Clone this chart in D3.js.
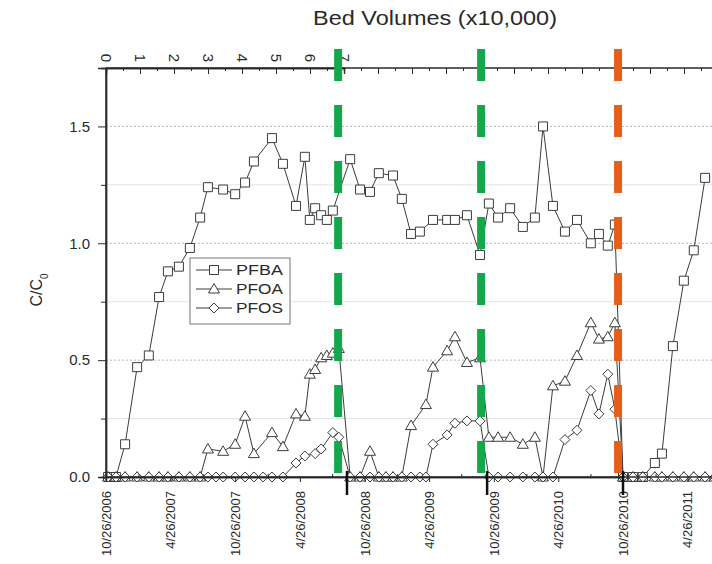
<!DOCTYPE html>
<html><head><meta charset="utf-8">
<script src="https://cdn.jsdelivr.net/npm/d3@7"></script>
<style>
body{margin:0;background:#fff}
svg{display:block}
text{font-family:"Liberation Sans",Arial,sans-serif;fill:#2a2a2a}
</style>
</head><body><svg id="c" width="712" height="564"></svg>
<script>
// ---------------- data ----------------
const sampleDates = [
 "2006-11-01","2006-11-23","2006-12-19","2007-01-22","2007-02-24","2007-03-25","2007-04-19","2007-05-20",
 "2007-06-20","2007-07-19","2007-08-10","2007-09-02","2007-09-22","2007-10-26","2007-11-23","2007-12-18",
 "2008-01-13","2008-02-07","2008-03-09","2008-04-15","2008-05-10","2008-05-24","2008-06-08","2008-06-25",
 "2008-07-11","2008-07-28","2008-08-14","2008-09-15","2008-10-13","2008-11-10","2008-12-05","2008-12-25",
 "2009-01-14","2009-02-08","2009-03-06","2009-03-31","2009-04-17","2009-05-07","2009-06-16","2009-07-08",
 "2009-08-11","2009-09-17","2009-10-12","2009-11-07","2009-12-11","2010-01-16","2010-02-19","2010-03-14",
 "2010-04-11","2010-05-15","2010-06-18","2010-07-27","2010-08-19","2010-09-13","2010-10-03","2010-10-26",
 "2010-11-23","2010-12-21","2011-01-24","2011-02-13","2011-03-16","2011-04-16","2011-05-14","2011-06-15",
 "2011-07-13"
];
const pfba = [
 0,0,0.14,0.47,0.52,0.77,0.88,0.90,
 0.98,1.11,1.24,null,1.23,1.21,1.26,1.35,
 null,1.45,1.34,1.16,1.37,1.10,1.15,1.12,
 1.10,1.14,null,1.36,1.23,1.22,1.30,null,
 1.29,1.19,1.04,1.05,null,1.10,1.10,1.10,
 1.12,0.95,1.17,1.11,1.15,1.07,1.11,1.50,
 1.16,1.05,1.10,1.00,1.04,0.99,1.08,0,
 0,0,0.06,0.10,0.56,0.84,0.97,1.28,
 null
];
const pfoa = [
 0,0,0,0,0,0,0,0,
 0,0,0.12,null,0.11,0.14,0.26,0.10,
 null,0.19,0.13,0.27,0.26,0.44,0.46,0.51,
 0.52,0.53,0.55,0,0,0.11,0,0,
 0,0,0.22,null,0.31,0.47,0.54,0.60,
 0.49,0.51,0.17,0.17,0.17,0.14,0.17,0,
 0.39,0.41,0.52,0.66,0.59,0.60,0.66,0,
 0,0,0,0,0,0,0,0,
 0
];
const pfos = [
 0,0,0,0,0,0,0,0,
 0,0,0,0,0,0,0,0,
 0,0,0,0.06,0.09,null,0.10,0.12,
 null,0.19,0.17,0,0,0,0,0,
 0,0,0,0,0,0.14,0.18,0.23,
 0.24,0.24,0,0,0,0,0,0,
 0,0.16,0.20,0.37,0.27,0.44,0.29,0,
 0,0,0,0,0,0,0,0,
 0
];
const seriesNames = ["PFBA","PFOA","PFOS"];
const dateTickLabels = ["10/26/2006","4/26/2007","10/26/2007","4/26/2008","10/26/2008",
  "4/26/2009","10/26/2009","4/26/2010","10/26/2010","4/26/2011"];
const minorDateTicks = ["1/26/2007","7/26/2007","1/26/2008","7/26/2008","1/26/2009",
  "7/26/2009","1/26/2010","7/26/2010","1/26/2011","7/26/2011"];
const yTicks = [0, 0.5, 1.0, 1.5];
const yMinorTicks = [0.25, 0.75, 1.25];
const bedVolumeLabels = [0,1,2,3,4,5,6,7];
const bedVolumeTicks = d3.range(0, 20, 1);
const bedVolumeMinorTicks = d3.range(0.5, 20, 1);
const changeDates = ["2008-08-12","2009-09-20","2010-10-12"];
const changeColors = ["#12a84b","#12a84b","#e55f19"];
const resinTickDates = ["2008-09-06","2009-10-07","2010-10-26"];

// ---------------- scales ----------------
const parse = d3.timeParse("%Y-%m-%d");
const parseLabel = d3.timeParse("%m/%d/%Y");
const x = d3.scaleTime().domain([parse("2006-10-26"), parse("2010-10-26")]).range([106, 623]);
const y = d3.scaleLinear().domain([0, 1.75]).range([477, 68]);
const bv = d3.scaleLinear().domain([0, 7]).range([106, 344]);
const X0 = 106, X1 = 780, Y0 = 477, Y1 = 68;

const svg = d3.select("#c");

// gridlines
svg.append("g").selectAll("line").data(yMinorTicks).join("line")
  .attr("x1", X0).attr("x2", X1).attr("y1", d => y(d)).attr("y2", d => y(d))
  .attr("stroke", "#e4e4e4").attr("stroke-width", 1);
svg.append("g").selectAll("line").data(yTicks.filter(d => d > 0)).join("line")
  .attr("x1", X0).attr("x2", X1).attr("y1", d => y(d)).attr("y2", d => y(d))
  .attr("stroke", "#b8b8b8").attr("stroke-width", 1).attr("stroke-dasharray", "2,2");

// series
const dates = sampleDates.map(parse);
const series = [pfba, pfoa, pfos];
const markerPaths = [
  "M-4.5,-4.5H4.5V4.5H-4.5Z",
  "M0,-5.5L5.5,4L-5.5,4Z",
  "M0,-5L5,0L0,5L-5,0Z"
];
const line = d3.line().x(d => x(d[0])).y(d => y(d[1]));
series.forEach((vals, i) => {
  const pts = vals.map((v, j) => [dates[j], v]).filter(p => p[1] !== null);
  const g = svg.append("g");
  g.append("path").datum(pts).attr("d", line)
    .attr("fill", "none").attr("stroke", "#3c3c3c").attr("stroke-width", 1);
  g.selectAll("path.m").data(pts).join("path").attr("class", "m")
    .attr("d", markerPaths[i])
    .attr("transform", d => `translate(${x(d[0])},${y(d[1])})`)
    .attr("fill", "#fff").attr("stroke", "#3c3c3c").attr("stroke-width", 1);
});

// axes
// left
const yAxis = svg.append("g").attr("transform", `translate(${X0},0)`)
  .call(d3.axisLeft(y).tickValues(yTicks).tickFormat(d3.format(".1f")).tickSize(8).tickPadding(8));
svg.append("g").attr("transform", `translate(${X0},0)`)
  .call(d3.axisLeft(y).tickValues(yMinorTicks).tickFormat("").tickSize(5));
// bottom
const xAxis = svg.append("g").attr("transform", `translate(0,${Y0})`)
  .call(d3.axisBottom(x).tickValues(dateTickLabels.map(parseLabel))
    .tickFormat((d, i) => dateTickLabels[i]).tickSize(5));
xAxis.selectAll("text")
  .attr("transform", "rotate(-90)").attr("x", -14).attr("y", 0).attr("dy", "0.35em")
  .style("text-anchor", "end").style("font-size", "13px");
svg.append("g").attr("transform", `translate(0,${Y0})`)
  .call(d3.axisBottom(x).tickValues(minorDateTicks.map(parseLabel)).tickFormat("").tickSize(-3));
// top
svg.append("g").attr("transform", `translate(0,${Y1})`)
  .call(d3.axisTop(bv).tickValues(bedVolumeTicks).tickFormat("").tickSize(-6));
svg.append("g").attr("transform", `translate(0,${Y1})`)
  .call(d3.axisTop(bv).tickValues(bedVolumeMinorTicks).tickFormat("").tickSize(-3));
const topLabels = svg.append("g").attr("transform", `translate(0,${Y1})`)
  .call(d3.axisTop(bv).tickValues(bedVolumeLabels).tickFormat(d3.format("d")).tickSize(0));
topLabels.select(".domain").remove();
topLabels.selectAll("text")
  .attr("transform", "rotate(90)").attr("x", -6).attr("y", 0).attr("dy", "0.35em")
  .style("text-anchor", "end").style("font-size", "15px");

[yAxis, xAxis].forEach(a => a.selectAll("text").style("fill", "#2a2a2a"));
yAxis.selectAll("text").style("font-size", "15px");
svg.selectAll(".domain").attr("stroke", "#2a2a2a").attr("stroke-width", 1.4);
svg.selectAll(".tick line").attr("stroke", "#2a2a2a");
// extend domains across plot
svg.append("line").attr("x1", X0).attr("x2", X1).attr("y1", Y1).attr("y2", Y1)
  .attr("stroke", "#2a2a2a").attr("stroke-width", 1.4);
svg.append("line").attr("x1", X0).attr("x2", X1).attr("y1", Y0).attr("y2", Y0)
  .attr("stroke", "#2a2a2a").attr("stroke-width", 1.4);
svg.append("line").attr("x1", X0).attr("x2", X0).attr("y1", Y1).attr("y2", Y0)
  .attr("stroke", "#2a2a2a").attr("stroke-width", 1.4);

// resin change ticks
svg.append("g").selectAll("line").data(resinTickDates.map(parse)).join("line")
  .attr("x1", d => x(d)).attr("x2", d => x(d)).attr("y1", Y0 - 6).attr("y2", Y0 + 18)
  .attr("stroke", "#111").attr("stroke-width", 2.5);

// dashed change lines
svg.append("g").selectAll("line").data(changeDates.map(parse)).join("line")
  .attr("x1", d => x(d)).attr("x2", d => x(d)).attr("y1", 49).attr("y2", 475)
  .attr("stroke", (d, i) => changeColors[i]).attr("stroke-width", 8)
  .attr("stroke-dasharray", "32,24");

// titles
svg.append("text").attr("x", 435).attr("y", 25).attr("text-anchor", "middle")
  .attr("textLength", 244).attr("lengthAdjust", "spacingAndGlyphs")
  .style("font-size", "20px").text("Bed Volumes (x10,000)");
const yl = svg.append("text").attr("transform", "translate(42,290) rotate(-90)")
  .attr("text-anchor", "middle").style("font-size", "16px");
yl.append("tspan").text("C/C");
yl.append("tspan").attr("baseline-shift", "sub").style("font-size", "10px").text("0");

// legend
const lg = svg.append("g").attr("transform", "translate(190,258)");
lg.append("rect").attr("width", 100).attr("height", 66)
  .attr("fill", "#fff").attr("stroke", "#777").attr("stroke-width", 1);
seriesNames.forEach((name, i) => {
  const ry = 12 + i * 19;
  lg.append("line").attr("x1", 6).attr("x2", 42).attr("y1", ry).attr("y2", ry)
    .attr("stroke", "#3c3c3c").attr("stroke-width", 1);
  lg.append("path").attr("d", markerPaths[i]).attr("transform", `translate(24,${ry})`)
    .attr("fill", "#fff").attr("stroke", "#3c3c3c");
  lg.append("text").attr("x", 46).attr("y", ry).attr("dy", "0.36em")
    .attr("textLength", 47).attr("lengthAdjust", "spacingAndGlyphs")
    .style("font-size", "15px").text(name);
});
</script>
</body></html>
